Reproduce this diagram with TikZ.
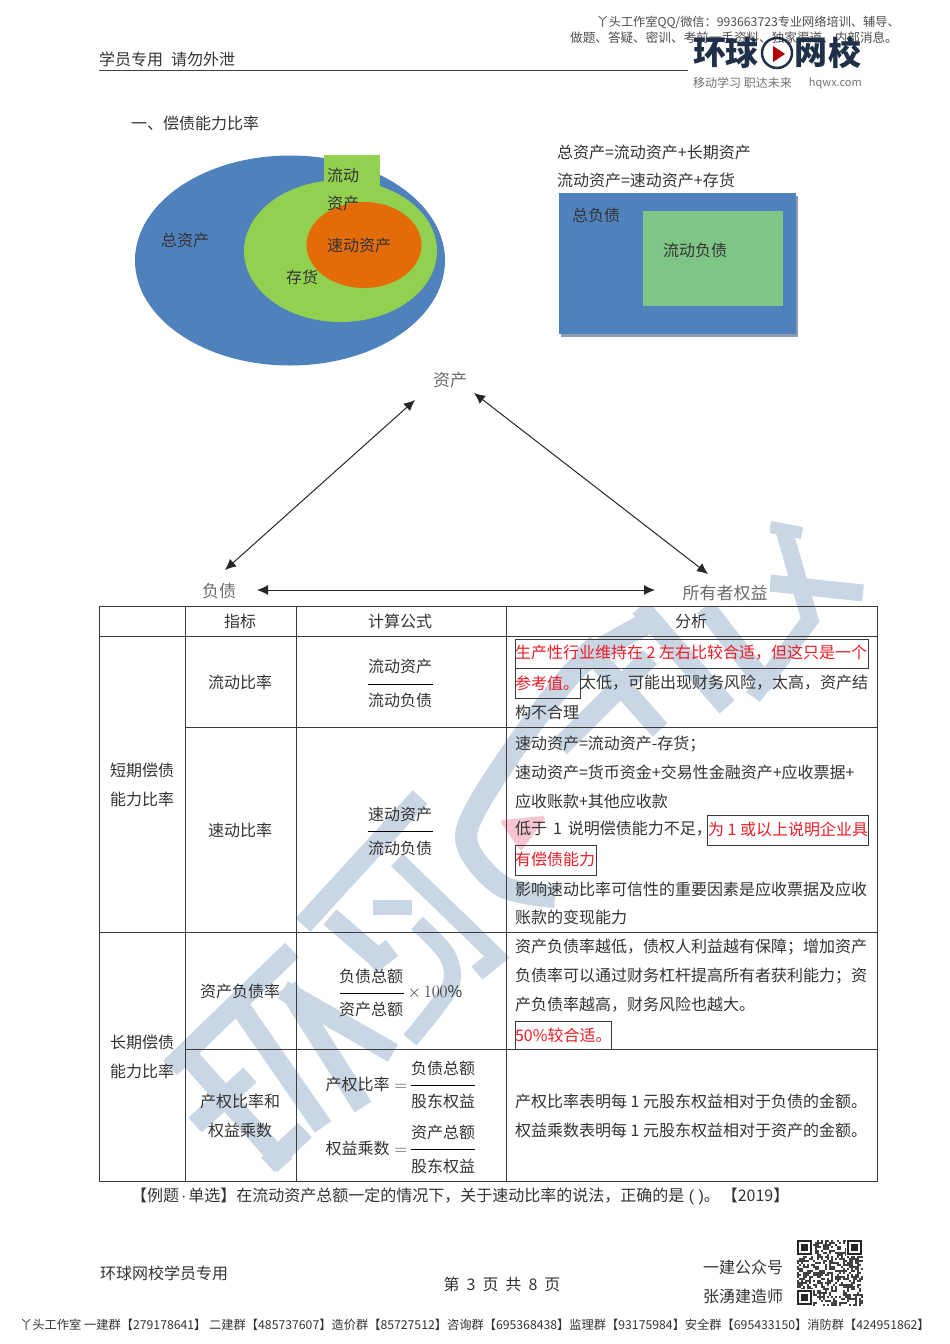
\documentclass[tikz,border=0pt]{standalone}
\usepackage{fontspec}
\setmainfont{Noto Sans CJK SC}
\newfontfamily\latinf{Liberation Sans}
\usetikzlibrary{arrows.meta}
\definecolor{wm}{HTML}{C9D6E4}
\definecolor{wmpink}{HTML}{F7C6D0}
\definecolor{ink}{HTML}{333333}
\definecolor{redtx}{HTML}{EE1C25}
\definecolor{gridc}{HTML}{3A3A3A}
\definecolor{navy}{HTML}{1F3048}
\definecolor{vblue}{HTML}{4F81BD}
\definecolor{vgreen}{HTML}{92D050}
\definecolor{vorange}{HTML}{E36C09}
\definecolor{lgreen}{HTML}{7FC585}
\definecolor{shad}{HTML}{8E9CB0}
\tikzset{
  x=1pt,y=-1pt,
  tx/.style={inner sep=0pt,outer sep=0pt,text=ink,font=\fontsize{16}{16}\selectfont},
  lf/.style={tx,anchor=west},
  rd/.style={lf,text=redtx},
  grid/.style={draw=gridc,line width=0.9pt},
  redbox/.style={draw=gridc,line width=0.8pt},
  frule/.style={draw=black,line width=0.8pt},
  tri/.style={inner sep=0pt,text=gray!85!black,font=\fontsize{17}{17}\selectfont},
  dbl/.style={{Latex[length=11pt,width=10pt]}-{Latex[length=11pt,width=10pt]},line width=1pt,draw=black!85},
  wb/.style={draw=wm,line width=20pt,line join=miter},
  wbt/.style={draw=wm,line width=17pt,line join=miter},
  hd/.style={inner sep=0pt,anchor=east,text=black!70},
  logo/.style={inner sep=0pt,text=navy,font=\fontsize{33}{33}\selectfont\bfseries},
}
\begin{document}
\begin{tikzpicture}
\useasboundingbox (0,0) rectangle (950,1344);
% watermark artwork
\draw[wb] (292,950) -- (170,1068);
\draw[wb] (190,1058) -- (285,1165);
\draw[wb] (250,1075) -- (195,1125);
\draw[wb] (305,1130) -- (268,1165);
\draw[wb] (240,1007) -- (323,1127);
\draw[wb] (287,987) -- (363,1107);
\draw[wb] (283,990) -- (393,1053);
\draw[wb] (420,797) -- (303,925);
\draw[wb] (330,917) -- (380,960);
\draw[wb] (392,948) -- (370,965);
\draw[wm,line width=15pt] (373,907) -- (412,907);
\draw[wbt] (397,860) -- (497,957) -- (477,973);
\draw[wbt] plot[smooth] coordinates {(417,923) (447,955) (450,987) (410,1040)};
\draw[wm,line width=22pt] plot[smooth] coordinates {(555,897) (500,885) (466,835) (510,755) (580,665) (650,622)};
\fill[wmpink,draw=wmpink,line width=4pt,line join=round] (503,822) -- (543,818) -- (521,848) -- cycle;
\draw[wb] (640,607) -- (727,707);
\draw[wb] (705,607) -- (770,690);
\draw[wb] (583,643) -- (660,730);
\draw[wb] (560,747) -- (650,657);
\draw[wbt] (783,527) -- (810,620) -- (753,697);
\draw[wm,line width=12pt] (770,527) -- (802,533);
\draw[wbt] (770,583) -- (863,593);
\fill[white] (600,500) rectangle (770,606);
% header
\node[hd,font=\fontsize{12.2}{12.2}\selectfont] (h1) at (900,22) {丫头工作室QQ/微信：993663723专业网络培训、辅导、};
\node[hd,font=\fontsize{12.6}{12.6}\selectfont] (h2) at (898,38) {做题、答疑、密训、考前一手资料、独家渠道、内部消息。};
\node[lf] (h3) at (99,59) {学员专用\hspace{8pt}请勿外泄};
\draw[black!75,line width=0.9pt] (99,70.5) -- (688,70.5);
\node[logo] (l1) at (710,53) {环};
\node[logo] (l2) at (742,53) {球};
\draw[navy,line width=2.5pt] (777,53) circle [radius=15];
\fill[red!70!black] (773,46) -- (785,54) -- (773,62) -- cycle;
\node[logo] (l3) at (811,53) {网};
\node[logo] (l4) at (845,53) {校};
\node[inner sep=0pt,text=black!55,anchor=west,font=\fontsize{12}{12}\selectfont] (l5) at (693,83) {移动学习 职达未来};
\node[inner sep=0pt,text=black!55,anchor=east,font=\fontsize{11}{11}\selectfont] (l6) at (862,83) {hqwx.com};
% title
\node[lf] (t1) at (131,123) {一、偿债能力比率};
% venn
\fill[vblue] (290,260.5) ellipse [x radius=155,y radius=105];
\fill[vgreen] (340.5,251) ellipse [x radius=96.5,y radius=71];
\fill[vgreen] (324,155) rectangle (380,187);
\fill[vorange] (364,245) ellipse [x radius=57.5,y radius=43];
\node[tx] (v1) at (343,175) {流动};
\node[tx] (v2) at (343,203) {资产};
\node[tx] (v3) at (359,245) {速动资产};
\node[tx] (v4) at (302,277) {存货};
\node[tx] (v5) at (185,240) {总资产};
\node[lf] (e1) at (557,152) {总资产=流动资产+长期资产};
\node[lf] (e2) at (557,180) {流动资产=速动资产+存货};
\fill[shad] (561,196) rectangle (798,337);
\fill[vblue] (559,193) rectangle (796,334);
\fill[lgreen] (643,211) rectangle (783,306);
\node[tx] (r1) at (596,215) {总负债};
\node[tx] (r2) at (695,250) {流动负债};
% triangle
\node[tri] (a) at (450,380) {资产};
\node[tri] (b) at (219,591) {负债};
\node[tri] (c) at (725,593) {所有者权益};
\coordinate (atl) at (415,400);
\coordinate (atr) at (474,393);
\coordinate (bt) at (225,570);
\coordinate (ct) at (708,574);
\coordinate (br) at (257,590);
\coordinate (cl) at (655,590);
\draw[dbl] (atl) -- (bt);
\draw[dbl] (atr) -- (ct);
\draw[dbl] (br) -- (cl);
% table
\draw[grid] (99,606) rectangle (877,1181);
\draw[grid] (99,636) -- (877,636);
\draw[grid] (185,727) -- (877,727);
\draw[grid] (99,932) -- (877,932);
\draw[grid] (185,1049) -- (877,1049);
\draw[grid] (185,606) -- (185,1181);
\draw[grid] (296,606) -- (296,1181);
\draw[grid] (506,606) -- (506,1181);
\node[tx] (c1) at (240,621) {指标};
\node[tx] (c2) at (400,621) {计算公式};
\node[tx] (c3) at (691,621) {分析};
\node[tx] (g1) at (142,770) {短期偿债};
\node[tx] (g2) at (142,799) {能力比率};
\node[tx] (g3) at (142,1042) {长期偿债};
\node[tx] (g4) at (142,1071) {能力比率};
\node[tx] (i1) at (240,682) {流动比率};
\node[tx] (i2) at (240,830) {速动比率};
\node[tx] (i3) at (240,991) {资产负债率};
\node[tx] (i4) at (240,1101) {产权比率和};
\node[tx] (i5) at (240,1130) {权益乘数};
% fractions
\node[tx] (f1) at (400,666) {流动资产};
\draw[frule] (368,684) -- (433,684);
\node[tx] (f2) at (400,700) {流动负债};
\node[tx] (f3) at (400,814) {速动资产};
\draw[frule] (368,831) -- (433,831);
\node[tx] (f4) at (400,848) {流动负债};
\node[tx] (f5) at (371,976) {负债总额};
\draw[frule] (340,993) -- (404,993);
\node[tx] (f6) at (371,1009) {资产总额};
\node[tx] (f7) at (435,992) {$\times\,100\%$};
\node[tx,anchor=east] (f8) at (407,1084) {产权比率\hspace{5pt}$=$};
\node[tx] (f9) at (443,1068) {负债总额};
\draw[frule] (411,1085) -- (475,1085);
\node[tx] (f10) at (443,1101) {股东权益};
\node[tx,anchor=east] (f11) at (407,1148) {权益乘数\hspace{5pt}$=$};
\node[tx] (f12) at (443,1132) {资产总额};
\draw[frule] (411,1149) -- (475,1149);
\node[tx] (f13) at (443,1166) {股东权益};
% analysis
\draw[redbox] (515,639) rectangle (868,668);
\draw[redbox] (515,668) rectangle (580,698);
\draw[redbox] (707,815) rectangle (868,845);
\draw[redbox] (515,845) rectangle (596,875);
\draw[redbox] (515,1021) rectangle (611,1049);
\node[rd] (n1) at (515,653) {生产性行业维持在 2 左右比较合适，但这只是一个};
\node[rd] (n2) at (515,683) {参考值。};
\node[lf] (n3) at (580,683) {太低，可能出现财务风险，太高，资产结};
\node[lf] (n4) at (515,712) {构不合理};
\node[lf] (n5) at (515,744) {速动资产=流动资产-存货；};
\node[lf] (n6) at (515,772) {速动资产=货币资金+交易性金融资产+应收票据+};
\node[lf] (n7) at (515,801) {应收账款+其他应收款};
\node[lf] (n8) at (515,829) {低于\hspace{6pt}1\hspace{6pt}说明偿债能力不足，};
\node[rd] (n9) at (708,829) {为 1 或以上说明企业具};
\node[rd] (n10) at (515,859) {有偿债能力};
\node[lf] (n11) at (515,889) {影响速动比率可信性的重要因素是应收票据及应收};
\node[lf] (n12) at (515,917) {账款的变现能力};
\node[lf] (n13) at (515,947) {资产负债率越低，债权人利益越有保障；增加资产};
\node[lf] (n14) at (515,976) {负债率可以通过财务杠杆提高所有者获利能力；资};
\node[lf] (n15) at (515,1005) {产负债率越高，财务风险也越大。};
\node[rd] (n16) at (515,1035) {50\%较合适。};
\node[lf] (n17) at (515,1101) {产权比率表明每 1 元股东权益相对于负债的金额。};
\node[lf] (n18) at (515,1130) {权益乘数表明每 1 元股东权益相对于资产的金额。};
\node[lf] (q) at (131,1196) {【例题\hspace{2pt}{\latinf ·}\hspace{2pt}单选】在流动资产总额一定的情况下，关于速动比率的说法，正确的是{\latinf\ ( )}。\hspace{2pt}【2019】};
% footer
\node[lf] (p1) at (100,1273) {环球网校学员专用};
\node[tx] (p2) at (502,1284) {第\hspace{7pt}3\hspace{7pt}页\hspace{7pt}共\hspace{7pt}8\hspace{7pt}页};
\node[tx,anchor=east] (p3) at (783,1267) {一建公众号};
\node[tx,anchor=east] (p4) at (783,1296) {张湧建造师};
% qr
\pgfmathsetseed{20}
\foreach \i in {0,...,32}{\foreach \j in {0,...,32}{
  \pgfmathparse{rnd>0.48?1:0}
  \ifnum\pgfmathresult=1
    \fill[black!75] ({797+2*\i},{1240+2*\j}) rectangle ++(2,2);
  \fi}}
\foreach \px/\py in {797/1240,847/1240,797/1290}{
  \fill[white] (\px-1,\py-1) rectangle ++(17,17);
  \fill[black!85] (\px,\py) rectangle ++(15,15);
  \fill[white] (\px+2,\py+2) rectangle ++(11,11);
  \fill[black!85] (\px+4,\py+4) rectangle ++(7,7);
}
\node[inner sep=0pt,anchor=west,text=black!80,font=\fontsize{12.24}{12.24}\selectfont] (z) at (20,1325) {丫头工作室 一建群【279178641】 二建群【485737607】造价群【85727512】咨询群【695368438】监理群【93175984】安全群【695433150】消防群【424951862】};
\end{tikzpicture}
\end{document}
